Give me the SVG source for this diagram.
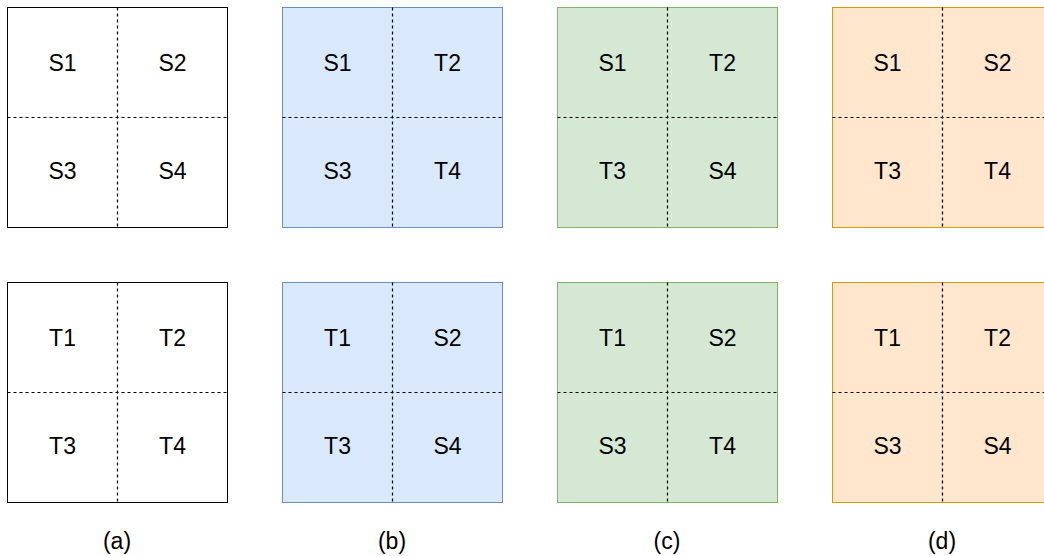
<svg xmlns="http://www.w3.org/2000/svg" width="1044" height="556" viewBox="0 0 1044 556">
  <style>
    .box { stroke-width: 1; }
    .plain { fill: #ffffff; stroke: #000000; }
    .blue { fill: #dae8fc; stroke: #6c8ebf; }
    .green { fill: #d5e8d4; stroke: #82b366; }
    .orange { fill: #ffe6cc; stroke: #d79b00; }
    .div { stroke: #000000; stroke-width: 1.2; stroke-dasharray: 3 3; fill: none; }
    text { font-family: "Liberation Sans", Arial, sans-serif; font-size: 23px; fill: #000000; text-anchor: middle; dominant-baseline: central; }
  </style>
  <defs>
    <!-- 220x220 square split into four quadrants by dashed lines -->
    <g id="dividers">
      <line class="div" x1="110" y1="0" x2="110" y2="220"/>
      <line class="div" x1="0" y1="110" x2="220" y2="110"/>
    </g>
  </defs>

  <!-- column (a) -->
  <g id="a-top" transform="translate(7.5,7.5)">
    <rect class="box plain" width="220" height="220"/>
    <use href="#dividers"/>
    <text x="55" y="55">S1</text><text x="165" y="55">S2</text>
    <text x="55" y="163">S3</text><text x="165" y="163">S4</text>
  </g>
  <g id="a-bottom" transform="translate(7.5,282.5)">
    <rect class="box plain" width="220" height="220"/>
    <use href="#dividers"/>
    <text x="55" y="55">T1</text><text x="165" y="55">T2</text>
    <text x="55" y="163">T3</text><text x="165" y="163">T4</text>
  </g>

  <!-- column (b) -->
  <g id="b-top" transform="translate(282.5,7.5)">
    <rect class="box blue" width="220" height="220"/>
    <use href="#dividers"/>
    <text x="55" y="55">S1</text><text x="165" y="55">T2</text>
    <text x="55" y="163">S3</text><text x="165" y="163">T4</text>
  </g>
  <g id="b-bottom" transform="translate(282.5,282.5)">
    <rect class="box blue" width="220" height="220"/>
    <use href="#dividers"/>
    <text x="55" y="55">T1</text><text x="165" y="55">S2</text>
    <text x="55" y="163">T3</text><text x="165" y="163">S4</text>
  </g>

  <!-- column (c) -->
  <g id="c-top" transform="translate(557.5,7.5)">
    <rect class="box green" width="220" height="220"/>
    <use href="#dividers"/>
    <text x="55" y="55">S1</text><text x="165" y="55">T2</text>
    <text x="55" y="163">T3</text><text x="165" y="163">S4</text>
  </g>
  <g id="c-bottom" transform="translate(557.5,282.5)">
    <rect class="box green" width="220" height="220"/>
    <use href="#dividers"/>
    <text x="55" y="55">T1</text><text x="165" y="55">S2</text>
    <text x="55" y="163">S3</text><text x="165" y="163">T4</text>
  </g>

  <!-- column (d) -->
  <g id="d-top" transform="translate(832.5,7.5)">
    <rect class="box orange" width="220" height="220"/>
    <use href="#dividers"/>
    <text x="55" y="55">S1</text><text x="165" y="55">S2</text>
    <text x="55" y="163">T3</text><text x="165" y="163">T4</text>
  </g>
  <g id="d-bottom" transform="translate(832.5,282.5)">
    <rect class="box orange" width="220" height="220"/>
    <use href="#dividers"/>
    <text x="55" y="55">T1</text><text x="165" y="55">T2</text>
    <text x="55" y="163">S3</text><text x="165" y="163">S4</text>
  </g>

  <!-- captions -->
  <g id="captions">
    <text x="117" y="541">(a)</text>
    <text x="392" y="541">(b)</text>
    <text x="667" y="541">(c)</text>
    <text x="942" y="541">(d)</text>
  </g>

  <g id="connectors"/>
</svg>
